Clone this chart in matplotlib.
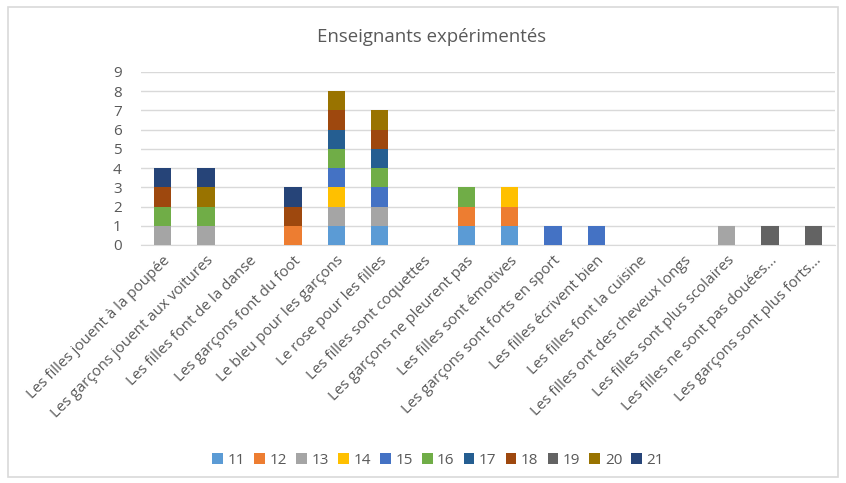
import numpy as np
import matplotlib.pyplot as plt
from matplotlib.patches import Rectangle

plt.rcParams['font.family'] = ['Open Sans', 'DejaVu Sans']

categories = [
    "Les filles jouent à la poupée",
    "Les garçons jouent aux voitures",
    "Les filles font de la danse",
    "Les garçons font du foot",
    "Le bleu pour les garçons",
    "Le rose pour les filles",
    "Les filles sont coquettes",
    "Les garçons ne pleurent pas",
    "Les filles sont émotives",
    "Les garçons sont forts en sport",
    "Les filles écrivent bien",
    "Les filles font la cuisine",
    "Les filles ont des cheveux longs",
    "Les filles sont plus scolaires",
    "Les filles ne sont pas douées...",
    "Les garçons sont plus forts...",
]

series_names = ["11", "12", "13", "14", "15", "16", "17", "18", "19", "20", "21"]

# one list per series (respondent), value per category
s11 = [0, 0, 0, 0, 1, 1, 0, 1, 1, 0, 0, 0, 0, 0, 0, 0]
s12 = [0, 0, 0, 1, 0, 0, 0, 1, 1, 0, 0, 0, 0, 0, 0, 0]
s13 = [1, 1, 0, 0, 1, 1, 0, 0, 0, 0, 0, 0, 0, 1, 0, 0]
s14 = [0, 0, 0, 0, 1, 0, 0, 0, 1, 0, 0, 0, 0, 0, 0, 0]
s15 = [0, 0, 0, 0, 1, 1, 0, 0, 0, 1, 1, 0, 0, 0, 0, 0]
s16 = [1, 1, 0, 0, 1, 1, 0, 1, 0, 0, 0, 0, 0, 0, 0, 0]
s17 = [0, 0, 0, 0, 1, 1, 0, 0, 0, 0, 0, 0, 0, 0, 0, 0]
s18 = [1, 0, 0, 1, 1, 1, 0, 0, 0, 0, 0, 0, 0, 0, 0, 0]
s19 = [0, 0, 0, 0, 0, 0, 0, 0, 0, 0, 0, 0, 0, 0, 1, 1]
s20 = [0, 1, 0, 0, 1, 1, 0, 0, 0, 0, 0, 0, 0, 0, 0, 0]
s21 = [1, 1, 0, 1, 0, 0, 0, 0, 0, 0, 0, 0, 0, 0, 0, 0]

series = [s11, s12, s13, s14, s15, s16, s17, s18, s19, s20, s21]
colors = ["#5B9BD5", "#ED7D31", "#A5A5A5", "#FFC000", "#4472C4", "#70AD47",
          "#255E91", "#9E480E", "#636363", "#997300", "#264478"]

fig = plt.figure(figsize=(8.46, 4.83), dpi=100)
ax = fig.add_axes([0.1667, 0.4928, 0.8203, 0.3582])

x = np.arange(len(categories))
bottom = np.zeros(len(categories))
for name, vals, c in zip(series_names, series, colors):
    vals = np.array(vals)
    ax.bar(x, vals, width=0.4, bottom=bottom, color=c, label=name, zorder=3)
    bottom += vals

ax.set_xlim(-0.5, len(categories) - 0.5)
ax.set_ylim(0, 9)
ax.set_yticks(range(10))
ax.yaxis.grid(True, color="#D9D9D9", linewidth=1, zorder=0)
for s in ["top", "right", "left"]:
    ax.spines[s].set_visible(False)
ax.spines["bottom"].set_color("#D9D9D9")
ax.tick_params(axis="both", length=0, colors="#595959", labelsize=11)
ax.tick_params(axis="y", pad=14)
ax.tick_params(axis="x", pad=6)
ax.set_xticks(x)
ax.set_xticklabels(categories, rotation=45, ha="right", rotation_mode="anchor",
                   fontsize=10.9, color="#595959")

fig.text(0.51, 0.923, "Enseignants expérimentés", ha="center", va="center",
         fontsize=13.4, color="#595959")

handles, labels = ax.get_legend_handles_labels()
fig.legend(handles, labels, loc="center", bbox_to_anchor=(0.518, 0.047), ncol=11,
           frameon=False, handlelength=0.7, handleheight=0.7, handletextpad=0.3,
           columnspacing=0.6, fontsize=11, labelcolor="#595959")

fig.patches.append(Rectangle((0.009, 0.012), 0.982, 0.974, transform=fig.transFigure,
                             fill=False, edgecolor="#D9D9D9", linewidth=1.2))

fig.savefig("out.png", dpi=100)
